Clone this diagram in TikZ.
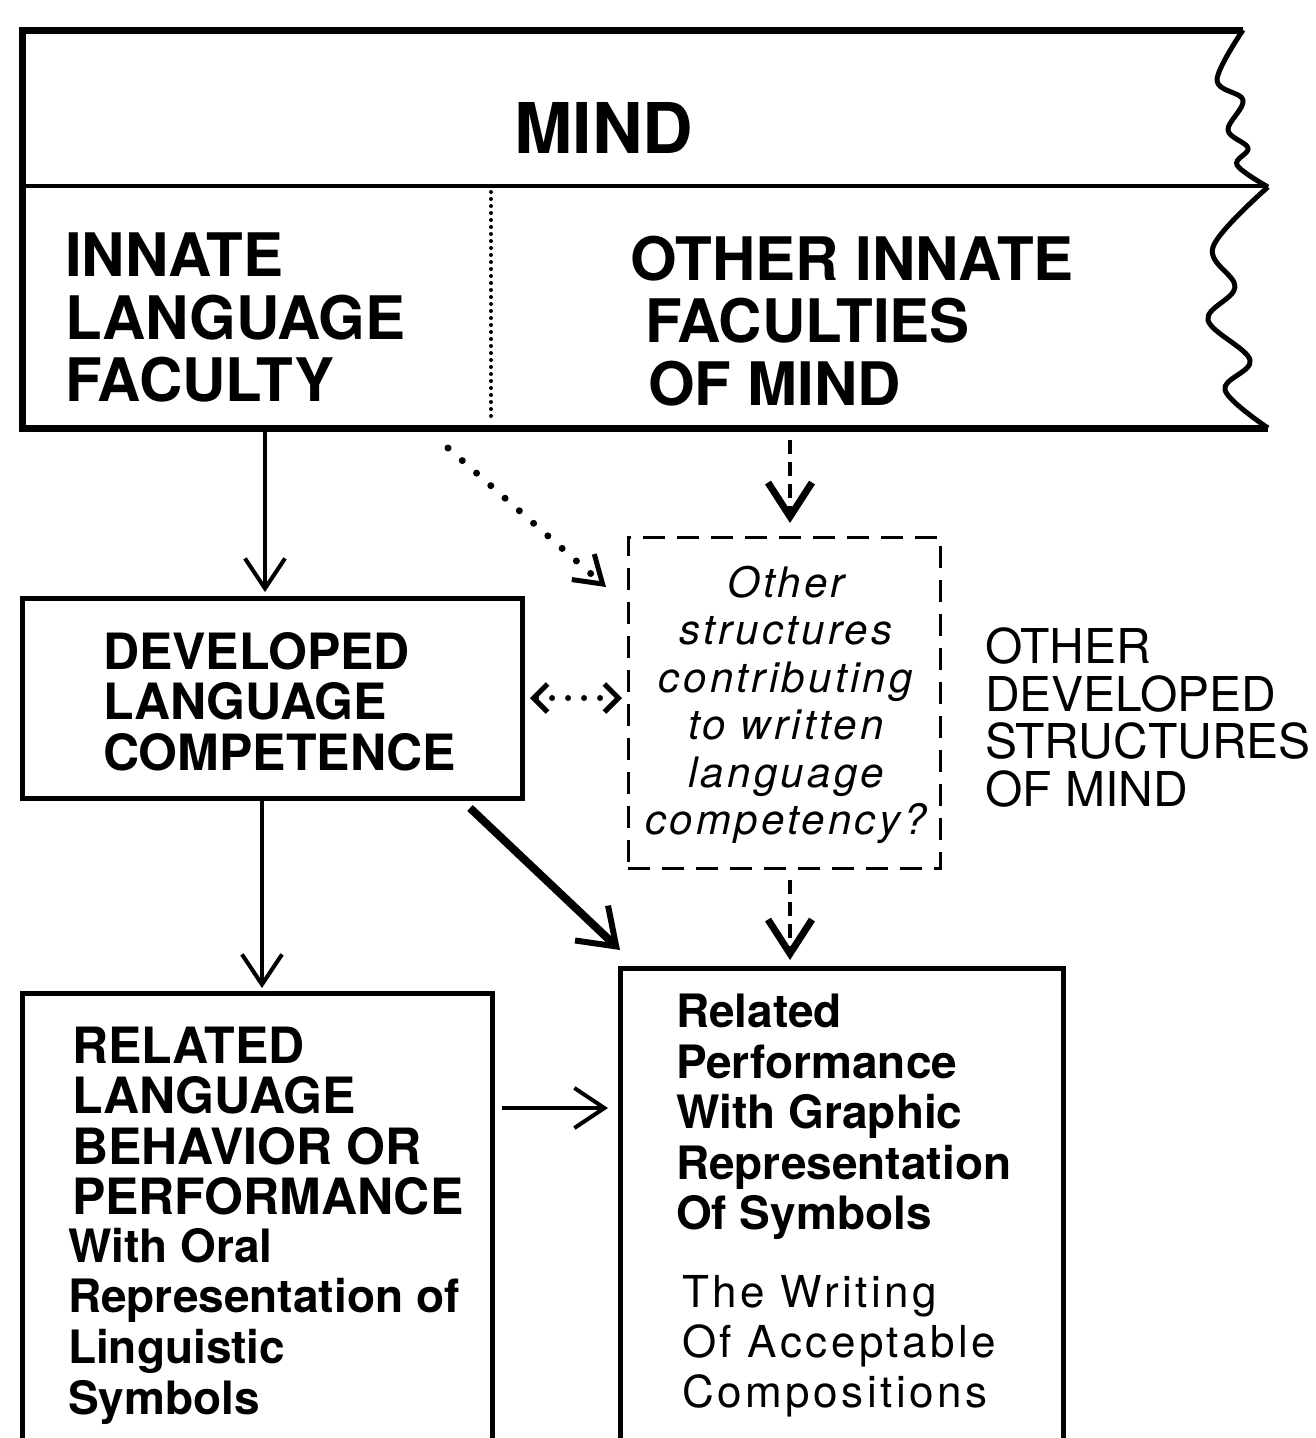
\documentclass[tikz,border=0pt]{standalone}
\usepackage{fontspec}
\setmainfont{TeX Gyre Heros}
\usetikzlibrary{arrows.meta}

\begin{document}
\begin{tikzpicture}[x=1pt,y=-1pt,
	frame/.style={draw,line width=5pt,inner sep=0,outer sep=0},
	guessframe/.style={draw,line width=3pt,dash pattern=on 22pt off 12pt,inner sep=0,outer sep=0},
	words/.style={inner sep=0,outer sep=0,anchor=north west,align=left},
	bigcaps/.style={font=\fontsize{60}{62.5}\selectfont\bfseries},
	midcaps/.style={font=\fontsize{50}{50.5}\selectfont\bfseries},
	midlower/.style={font=\fontsize{46}{50.6}\selectfont\bfseries},
	plaincaps/.style={font=\fontsize{48}{47.5}\selectfont},
	plainwide/.style={font=\fontsize{44}{50}\selectfont\addfontfeatures{LetterSpace=8}},
	slanted/.style={font=\fontsize{42}{47.4}\selectfont\itshape\addfontfeatures{LetterSpace=8}},
	link/.style={line width=4pt,-{Straight Barb[length=30pt,width=40pt,line width=4pt]}},
	strong/.style={line width=8pt,-{Straight Barb[length=34pt,width=48pt,line width=6pt]}},
	hinted/.style={line width=7pt,line cap=round,dash pattern=on 0pt off 19pt},
	guessed/.style={line width=4pt,dash pattern=on 14pt off 8pt,-{Straight Barb[length=34pt,width=44pt,line width=7pt]}}]
	\useasboundingbox (0,0) rectangle (1316,1438);
	\draw[line width=7pt] (1243,30) -- (22,30) -- (22,428) -- (1268,428);
	\draw[line width=4pt] (22,186) -- (1268,186);
	\draw[line width=4pt,line cap=round,dash pattern=on 0pt off 7pt] (491,192) -- (491,422);
	\draw[line width=5pt,line join=round] plot[smooth,tension=0.6] coordinates {(1243,30) (1217,80) (1243,100) (1228,130) (1248,148) (1237,165) (1268,187)};
	\draw[line width=5pt,line join=round] plot[smooth,tension=0.6] coordinates {(1268,187) (1213,247) (1235,287) (1208,320) (1250,360) (1225,390) (1268,428)};
	\node[inner sep=0,font=\fontsize{70}{72}\selectfont\bfseries] (mind) at (604,128) {MIND};
	\node[words,bigcaps] (innate) at (65,233) {INNATE\\LANGUAGE\\FACULTY};
	\node[words,bigcaps] (others) at (630,236) {OTHER INNATE\\\hspace*{15pt}FACULTIES\\\hspace*{18pt}OF MIND};
	\coordinate (langfoot) at (265,432);
	\coordinate (otherfoot) at (790,440);
	\coordinate (hintstart) at (448,448);
	\coordinate (hinttip) at (606,587);
	\coordinate (sideway) at (0,1108);
	\node[frame,minimum width=500pt,minimum height=200pt] (dlc) at (272,698) {};
	\node[guessframe,minimum width=312pt,minimum height=331pt] (guess) at (784,702.5) {};
	\node[frame,minimum width=470pt,minimum height=600pt,anchor=north west] (oral) at (22,993) {};
	\node[frame,minimum width=443pt,minimum height=600pt,anchor=north west] (graphic) at (620,968) {};
	\coordinate (dlcfoot) at ([xshift=-10pt]dlc.south);
	\node[words,midcaps] (dlctext) at (103,632) {DEVELOPED\\LANGUAGE\\COMPETENCE};
	\node[inner sep=0,anchor=north,align=center,slanted] (guesstext) at (786,566) {Other\\structures\\contributing\\to written\\language\\competency?};
	\node[words,plaincaps] (devel) at (985,628) {OTHER\\DEVELOPED\\STRUCTURES\\OF MIND};
	\node[words,midcaps] (oraltext) at (72,1027) {RELATED\\LANGUAGE\\BEHAVIOR OR\\PERFORMANCE};
	\node[words,midlower] (oralsub) at (68,1228) {With Oral\\Representation of\\Linguistic\\Symbols};
	\node[words,midlower] (graphtext) at (676,994) {Related\\Performance\\With Graphic\\Representation\\Of Symbols};
	\node[words,plainwide] (writing) at (682,1275) {The Writing\\Of Acceptable\\Compositions};
	\draw[link,shorten >=6pt] (langfoot) -- (langfoot |- dlc.north);
	\draw[hinted,-{Straight Barb[length=26pt,width=34pt,line width=5pt]}] (hintstart) -- (hinttip);
	\draw[guessed,shorten >=14pt] (otherfoot) -- (otherfoot |- guess.north);
	\draw[hinted,line width=6pt,dash pattern=on 0pt off 16pt,{Straight Barb[length=14pt,width=28pt,line width=5pt]}-{Straight Barb[length=14pt,width=28pt,line width=5pt]},shorten <=8pt,shorten >=6pt] (dlc.east) -- (guess.west |- dlc.east);
	\draw[link,shorten >=5pt] (dlcfoot) -- (dlcfoot |- oral.north);
	\draw[strong] ([xshift=-52pt,yshift=-10pt]dlc.south east) -- ([yshift=18pt]graphic.north west);
	\draw[guessed,shorten <=12pt,shorten >=8pt] (otherfoot |- guess.south) -- (otherfoot |- graphic.north);
	\draw[link,shorten <=10pt,shorten >=12pt] (oral.east |- sideway) -- (graphic.west |- sideway);
\end{tikzpicture}
\end{document}
